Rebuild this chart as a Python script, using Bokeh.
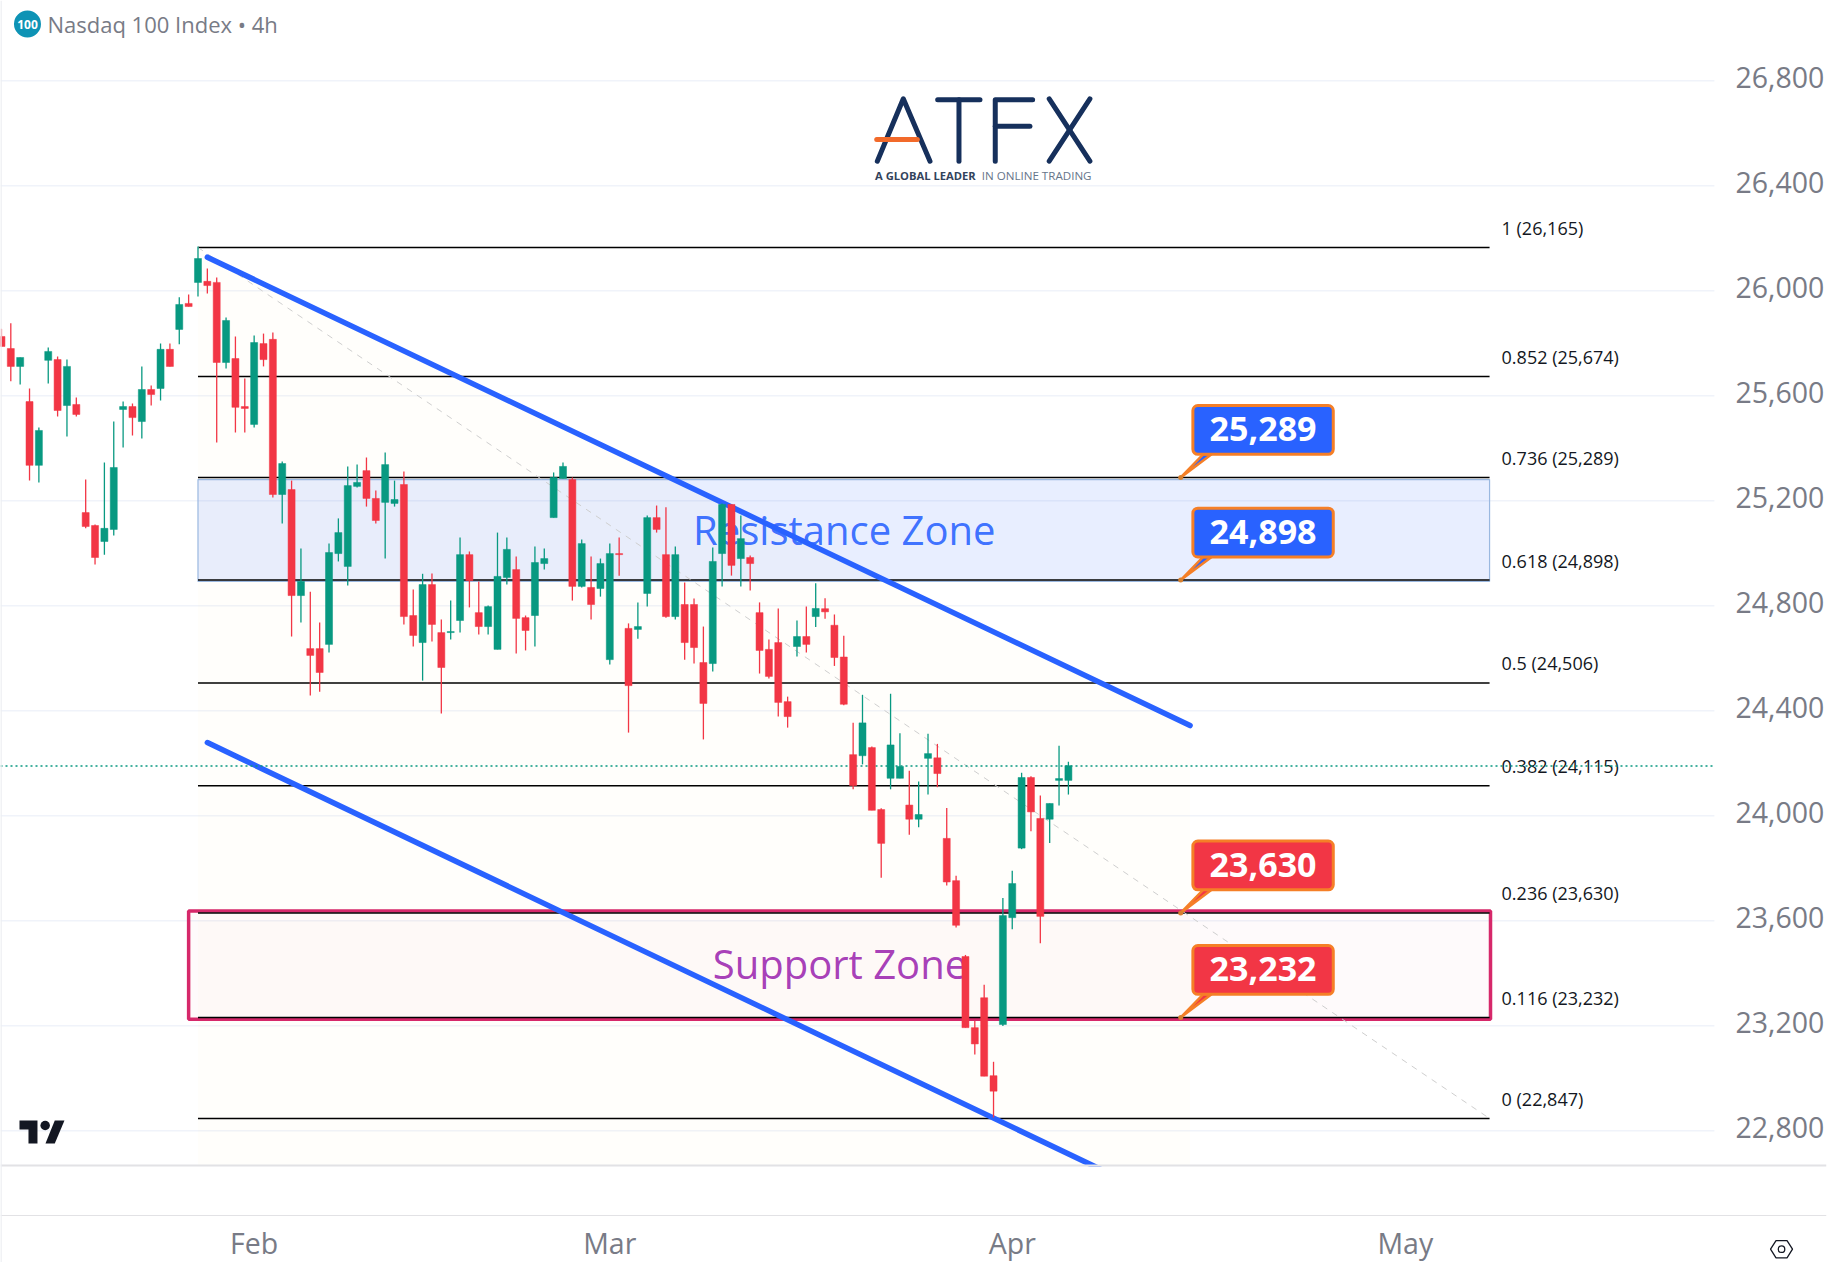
import math

from bokeh.core.properties import value
from bokeh.embed import file_html
from bokeh.models import ColumnDataSource, FixedTicker, LinearAxis, NumeralTickFormatter, Range1d
from bokeh.plotting import figure
from bokeh.resources import INLINE

# 4h candles, one entry per bar
opens = [25826, 25780, 25712, 25578, 25335, 25735, 25738, 25563, 25567, 25155, 25106, 25045, 25091, 25548, 25559,
         25502, 25624, 25628, 25777, 25853, 25952, 26032, 26036, 26032, 25727, 25742, 25559, 25491, 25799, 25815,
         25224, 25243, 24839, 24637, 24637, 24653, 24999, 24950, 25255, 25315, 25209, 25194, 25190, 25262, 24763,
         24660, 24881, 24698, 24698, 24744, 24995, 24774, 24721, 24634, 24908, 24938, 24755, 24763, 24961, 25136,
         25285, 25281, 24874, 24870, 24866, 24595, 24999, 24714, 24710, 24847, 25136, 24995, 24759, 24805, 24805,
         24584, 24580, 24999, 25186, 24980, 24984, 24774, 24634, 24660, 24435, 24645, 24683, 24759, 24789, 24726,
         24605, 24233, 24229, 24260, 24024, 24143, 24143, 24041, 23987, 24219, 24221, 23914, 23753, 23464, 23193,
         23307, 23010, 23205, 23612, 23877, 24146, 23990, 23987, 24135, 24135]
closes = [25788, 25712, 25746, 25335, 25468, 25769, 25544, 25712, 25529, 25102, 24984, 25095, 25327, 25559, 25517,
          25624, 25605, 25777, 25712, 25948, 25940, 26123, 26020, 25727, 25887, 25556, 25552, 25803, 25738, 25224,
          25342, 24839, 24893, 24611, 24546, 25003, 25079, 25258, 25270, 25209, 25125, 25338, 25205, 24759, 24687,
          24881, 24729, 24565, 24702, 24995, 24896, 24721, 24797, 24912, 25015, 24752, 24706, 24965, 24980, 25289,
          25331, 24874, 25037, 24805, 24961, 24999, 24995, 24496, 24721, 25136, 25091, 24759, 24995, 24660, 24641,
          24428, 24969, 25186, 24954, 25056, 24961, 24630, 24531, 24432, 24378, 24683, 24653, 24790, 24777, 24603,
          24425, 24115, 24354, 24021, 23895, 24270, 24188, 23987, 24005, 24237, 24161, 23748, 23583, 23193, 23131,
          23008, 22951, 23620, 23742, 24146, 24015, 23617, 24047, 24142, 24191]
highs = [25855, 25876, 25746, 25628, 25479, 25784, 25750, 25738, 25594, 25281, 25110, 25346, 25502, 25578, 25571,
         25712, 25639, 25799, 25799, 25975, 25986, 26169, 26085, 26051, 25898, 25826, 25666, 25830, 25837, 25841,
         25350, 25277, 25018, 24854, 24736, 25037, 25133, 25331, 25338, 25365, 25239, 25384, 25277, 25312, 24862,
         24922, 24923, 24748, 24820, 25060, 25007, 24893, 24801, 25079, 25060, 24988, 24763, 25026, 25018, 25308,
         25346, 25289, 25053, 24988, 24980, 25037, 25060, 24733, 24813, 25144, 25182, 25175, 25026, 24889, 24828,
         24721, 25022, 25190, 25186, 25144, 24992, 24813, 24672, 24790, 24454, 24744, 24797, 24886, 24829, 24767,
         24686, 24355, 24461, 24264, 24029, 24465, 24315, 24172, 24131, 24313, 24274, 24030, 23772, 23470, 23218,
         23356, 23063, 23687, 23791, 24164, 24151, 24077, 24047, 24267, 24206]
lows = [25788, 25655, 25643, 25277, 25270, 25647, 25521, 25445, 25521, 25095, 24957, 24995, 25068, 25403, 25449,
        25437, 25563, 25582, 25712, 25796, 25940, 25978, 25990, 25422, 25704, 25460, 25460, 25479, 25712, 25213,
        25114, 24683, 24736, 24458, 24473, 24622, 24969, 24877, 25251, 25178, 25114, 24980, 25178, 24729, 24645,
        24515, 24664, 24390, 24672, 24698, 24794, 24691, 24691, 24634, 24881, 24618, 24630, 24645, 24938, 25136,
        25285, 24820, 24870, 24748, 24835, 24576, 24915, 24317, 24675, 24797, 25079, 24755, 24748, 24595, 24580,
        24291, 24550, 24874, 24915, 24874, 24858, 24542, 24523, 24378, 24336, 24607, 24622, 24719, 24751, 24571,
        24421, 24101, 24196, 24021, 23764, 24101, 24143, 23928, 23956, 24081, 24109, 23735, 23575, 23193, 23091,
        23008, 22851, 23199, 23568, 23873, 23941, 23515, 23896, 24039, 24081]

fib_ratios = ["1", "0.852", "0.736", "0.618", "0.5", "0.382", "0.236", "0.116", "0"]
fib_levels = [26165, 25674, 25289, 24898, 24506, 24115, 23630, 23232, 22847]

callout_levels = [25289, 24898, 23630, 23232]
callout_colors = ["#2962ff", "#2962ff", "#f23645", "#f23645"]

price_ticks = [22800, 23200, 23600, 24000, 24400, 24800, 25200, 25600, 26000, 26400, 26800]
month_ticks = {27: "Feb", 65: "Mar", 108: "Apr", 150: "May"}
last_price = 24190

GREEN = "#089981"
RED = "#f23645"
BLUE = "#2962ff"
ORANGE = "#f57f27"
GREY = "#787b86"
RULE = "#e2e2e5"
FONT = value("Open Sans")
PANE_END = 183.02  # bar index where the price pane stops and the scale begins

# the frame fills the whole figure; axis labels are pulled back in with negative standoffs.
# the time axis hangs from the top edge because only that way it takes no room off the frame
p = figure(width=1827, height=1262, x_range=Range1d(-0.101, 195.0), y_range=Range1d(22298.4, 27105.9),
           x_axis_location="above", y_axis_location=None, output_backend="svg", toolbar_location=None,
           min_border_left=0, min_border_top=0, min_border_right=0, min_border_bottom=0,
           background_fill_color="white", outline_line_color=None)
# a second pair of ranges in page pixels, for the logos and the title
p.extra_x_ranges["px"] = Range1d(0, 1827)
p.extra_y_ranges["px"] = Range1d(1262, 0)
# labels sit a touch above their grid lines
p.extra_y_ranges["labels"] = Range1d(22298.4 - 13, 27105.9 - 13)
PX = dict(x_range_name="px", y_range_name="px")

p.grid.visible = False
yaxis = LinearAxis(y_range_name="labels", ticker=FixedTicker(ticks=price_ticks),
                   formatter=NumeralTickFormatter(format="0,0"))
p.add_layout(yaxis, "right")
p.xaxis.ticker = FixedTicker(ticks=list(month_ticks))
p.xaxis.major_label_overrides = month_ticks
for ax in (p.xaxis[0], yaxis):
    ax.axis_line_color = None
    ax.major_tick_line_color = None
    ax.minor_tick_line_color = None
    ax.major_label_text_color = GREY
    ax.major_label_text_font = "Open Sans"
    ax.major_label_text_font_size = "28.5px"
yaxis.major_label_standoff = -97
p.xaxis.major_label_standoff = -1267

p.segment(x0=[-0.101] * len(price_ticks), x1=[PANE_END] * len(price_ticks), y0=price_ticks, y1=price_ticks,
          line_color="#f0f3fa", line_width=1.5)

# the pale wash under the channel
p.patch([21, 22, 127, 127, 21], [26165, 26128, 24344, 22668, 22668], fill_color="#ffc04d", fill_alpha=0.025,
        line_color=None)

# zones
p.quad(left=[21], right=[159], top=[25281], bottom=[24893], fill_color=BLUE, fill_alpha=0.11,
       line_color="#9ab8e0", line_width=1.2)
p.quad(left=[20], right=[159.1], top=[23637], bottom=[23225], fill_color="#d81b60", fill_alpha=0.025,
       line_color="#d6286a", line_width=3.5)

# fib levels
p.segment(x0=[21] * len(fib_levels), x1=[159] * len(fib_levels), y0=fib_levels, y1=fib_levels,
          line_color="black", line_width=1.5)
p.line([21, 159], [fib_levels[0], fib_levels[-1]], line_color="#cfcfcf", line_width=1, line_dash="6 6")
p.text(x=[159] * len(fib_levels), y=fib_levels,
       text=["{} ({:,})".format(r, v) for r, v in zip(fib_ratios, fib_levels)],
       x_offset=12, y_offset=-19.5, text_font=FONT, text_font_size="18px", text_color="#131722",
       text_baseline="middle")

# channel
p.line([22, 127], [26128, 24344], line_color=BLUE, line_width=5.5, line_cap="round")
p.line([22, 118], [24279, 22644], line_color=BLUE, line_width=5.5, line_cap="round")

p.text(x=[73.9], y=[25092], text=["Resistance Zone"], text_font=FONT, text_font_size="40px", text_color=BLUE,
       text_alpha=0.9, text_baseline="middle")
p.text(x=[76], y=[23436], text=["Support Zone"], text_font=FONT, text_font_size="40px", text_color="#9c27b0",
       text_alpha=0.9, text_baseline="middle")

p.line([-0.101, PANE_END], [last_price, last_price], line_color=GREEN, line_width=1.5, line_dash="2 3")

# candles
idx = list(range(len(opens)))
colors = [GREEN if c >= o else RED for o, c in zip(opens, closes)]
source = ColumnDataSource(dict(i=idx, o=opens, c=closes, h=highs, l=lows, color=colors))
p.segment(x0="i", x1="i", y0="h", y1="l", line_color="color", line_width=1.3, source=source)
p.vbar(x="i", width=0.75, top="o", bottom="c", fill_color="color", line_color="color", line_width=0.5, source=source)

# price callouts
p.patches(xs=[[128.4, 129.3, 126] for _ in callout_levels],
          ys=[[v + 88, v + 88, v] for v in callout_levels],
          fill_color=callout_colors, line_color=ORANGE, line_width=2.5)
p.scatter(x=[126] * 4, y=callout_levels, size=5, fill_color="#d8802f", line_color=None)
p.quad(left=[127.3] * 4, right=[142.3] * 4, top=[v + 274 for v in callout_levels],
       bottom=[v + 88 for v in callout_levels], fill_color=callout_colors, line_color=ORANGE, line_width=3,
       border_radius=5)
p.text(x=[134.8] * 4, y=[v + 183 for v in callout_levels], text=["{:,}".format(v) for v in callout_levels],
       text_font=FONT, text_font_style="bold", text_font_size="34px", text_color="white", text_align="center",
       text_baseline="middle")

# ATFX logo
p.multi_line(xs=[[877.3, 903.3, 930], [937.7, 980], [959, 959], [1032.7, 995.3, 995.3], [995.3, 1030],
                 [1049.3, 1090], [1090, 1049.3]],
             ys=[[160.7, 98.3, 160.7], [99.3, 99.3], [99.3, 160.7], [99.3, 99.3, 160.7], [125.7, 125.7],
                 [98.3, 160.7], [98.3, 160.7]],
             line_color="#16305c", line_width=5, line_cap="round", line_join="round", **PX)
p.line([876.7, 917.3], [139, 139], line_color="#f26a2a", line_width=5, line_cap="round", **PX)
p.text(x=[875], y=[175], text=["A GLOBAL LEADER"], text_font=FONT, text_font_style="bold", text_font_size="11.2px",
       text_color="#33435c", text_baseline="middle", **PX)
p.text(x=[981.7], y=[175], text=["IN ONLINE TRADING"], text_font=FONT, text_font_size="11.6px",
       text_color="#66758a", text_baseline="middle", **PX)

# TradingView mark
p.patch([19, 37, 37, 28, 28, 19], [1120, 1120, 1143, 1143, 1129, 1129], fill_color="#131722", line_color=None, **PX)
p.scatter(x=[44.7], y=[1125], size=9.5, fill_color="#131722", line_color=None, **PX)
p.patch([54.3, 64, 54.3, 45], [1120, 1120, 1143, 1143], fill_color="#131722", line_color=None, **PX)

# title
p.scatter(x=[27], y=[23.5], size=27, fill_color="#0e93b5", line_color=None, **PX)
p.text(x=[27], y=[24], text=["100"], text_font=FONT, text_font_style="bold", text_font_size="12px",
       text_color="white", text_align="center", text_baseline="middle", **PX)
p.text(x=[47], y=[23], text=["Nasdaq 100 Index \u2022 4h"], text_font=FONT, text_font_size="22px",
       text_color=GREY, text_baseline="middle", **PX)

# the time scale strip covers whatever runs past the pane, then its rules and the settings hexagon
p.quad(left=[0], right=[1827], top=[1166], bottom=[1262], fill_color="white", line_color=None, **PX)
p.segment(x0=[0, 0], x1=[1827, 1827], y0=[1165, 1215], y1=[1165, 1215], line_color=RULE,
          line_width=[2, 1], **PX)
p.line([0.5, 0.5], [0, 1262], line_color="#eceef2", line_width=1.5, **PX)
hex_x = [1782 + 11 * math.cos(math.radians(a)) for a in range(0, 360, 60)]
hex_y = [1248.7 + 10 * math.sin(math.radians(a)) for a in range(0, 360, 60)]
p.patch(hex_x, hex_y, fill_alpha=0, line_color="#131722", line_width=1.3, **PX)
p.scatter(x=[1782], y=[1248.7], size=6.5, fill_alpha=0, line_color="#131722", line_width=1.3, **PX)

open("out.html", "w").write(file_html(p, INLINE))
